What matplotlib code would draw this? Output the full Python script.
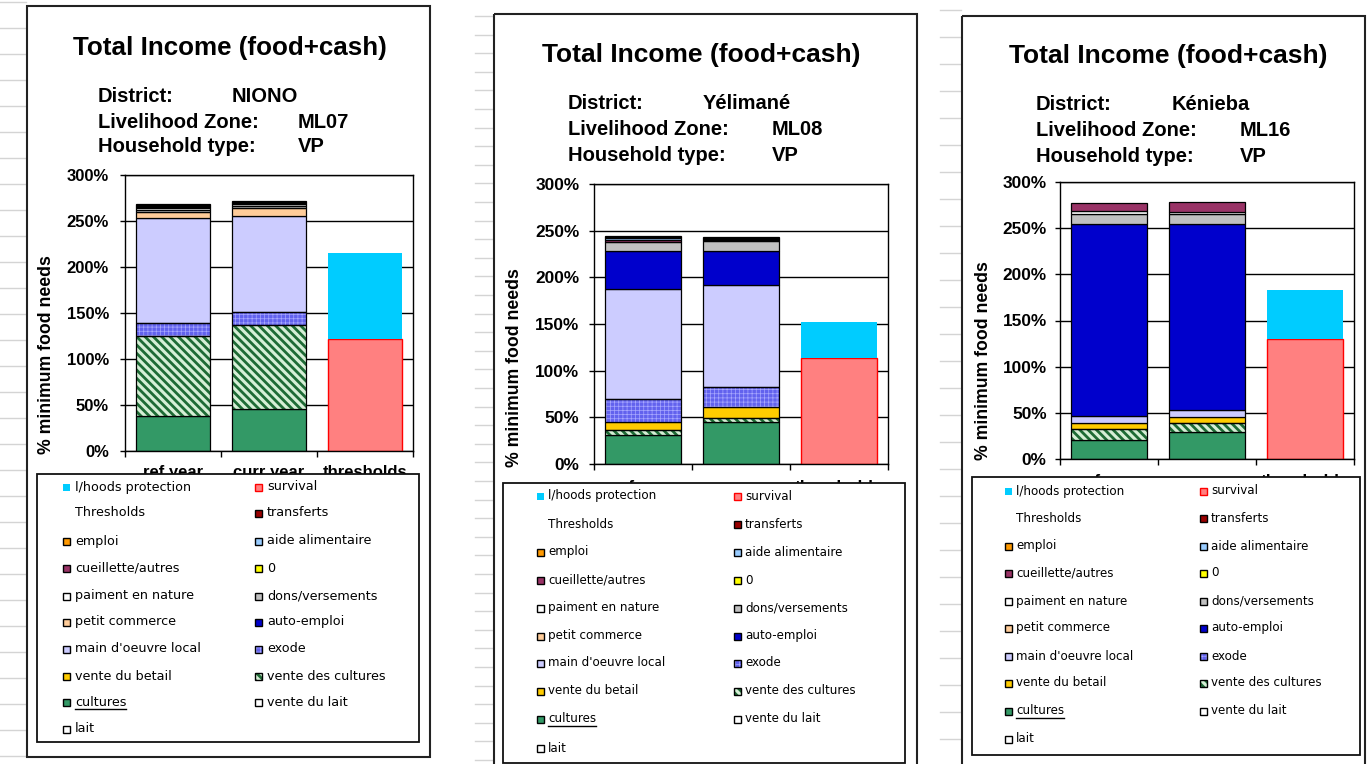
import numpy as np
import matplotlib
matplotlib.use("Agg")
import matplotlib.pyplot as plt
from matplotlib.patches import Rectangle

# ---------------- data ----------------
categories = ["ref year", "curr year", "thresholds"]
series = ["lait", "vente du lait", "cultures", "vente des cultures",
          "vente du betail", "exode", "main d'oeuvre local", "auto-emploi",
          "petit commerce", "dons/versements", "paiment en nature", "0",
          "cueillette/autres", "aide alimentaire", "emploi", "transferts"]
threshold_series = ["survival", "l/hoods protection"]

districts = ["NIONO", "Yélimané", "Kénieba"]
zones = ["ML07", "ML08", "ML16"]
household_types = ["VP", "VP", "VP"]

niono_ref = [0, 0, 38, 87, 0, 14, 114, 0, 7, 2, 2, 1, 1, 1, 0.5, 1]
niono_curr = [0, 0, 46, 91, 0, 14, 104, 0, 9, 2, 2.4, 0.5, 1, 0.5, 0.3, 0.5]
yelimane_ref = [0, 0, 31, 5.5, 8, 25, 118, 41, 0, 9, 0, 0, 3, 1.5, 1, 1.5]
yelimane_curr = [0, 0, 45, 4, 12, 22, 109, 36.5, 0, 10, 1, 0.5, 1, 0.5, 0.5, 0.8]
kenieba_ref = [0, 0, 21, 12, 6.5, 0, 7.5, 207, 0, 11.5, 3, 0, 8.5, 0, 0, 0]
kenieba_curr = [0, 0, 29, 9.5, 7, 0, 8, 200.5, 0, 11.5, 2.5, 0, 10, 0, 0, 0]

survival = [122, 114, 130]
lhoods_protection = [93, 38, 53]

incomes = [(niono_ref, niono_curr), (yelimane_ref, yelimane_curr),
           (kenieba_ref, kenieba_curr)]

# ---------------- styles ----------------
face = {"lait": "white", "vente du lait": "white", "cultures": "#339966",
        "vente des cultures": "#D6EFD6", "vente du betail": "#FFCC00",
        "exode": "#6262EE", "main d'oeuvre local": "#CCCCFF",
        "auto-emploi": "#0000CC", "petit commerce": "#FFCC99",
        "dons/versements": "#C0C0C0", "paiment en nature": "white",
        "0": "#FFFF00", "cueillette/autres": "#993366",
        "aide alimentaire": "#99CCFF", "emploi": "#FF9900",
        "transferts": "#990000", "survival": "#FF8080",
        "l/hoods protection": "#00CCFF"}
hatches = {"vente des cultures": ("\\\\\\\\", "#1E6B35", 2.0),
           "exode": ("++++", "#A8A8FF", 0.5)}

W, H = 1370, 764
fig = plt.figure(figsize=(W / 100, H / 100), dpi=100)
fig.patch.set_facecolor("white")
plt.rcParams["font.family"] = ["Liberation Sans", "DejaVu Sans"]


def fbox(x0, y0, x1, y1):
    return [x0 / W, 1 - y1 / H, (x1 - x0) / W, (y1 - y0) / H]


layouts = [
    dict(frame=(27, 6, 430, 757), ax=(125, 175, 413, 451), title=(230, 55, 18.7),
         info_x=(98, 232, 298), info_y=(102, 128, 152),
         leg_box=(37, 474, 419, 742),
         leg_rows=[487, 513, 541, 568, 596, 622, 649, 676, 702, 729],
         leg_cols=((67, 75), (259, 267)), leg_fs=9.2, xpad=10.2, ypad=8,
         tfs=12, ylab=(-0.243, 0.348)),
    dict(frame=(494, 14, 917, 775), ax=(594, 184, 888, 464), title=(701, 62, 19),
         info_x=(568, 703, 772), info_y=(109, 135, 161),
         leg_box=(503, 483, 905, 763),
         leg_rows=[496, 524, 552, 580, 608, 636, 663, 691, 719, 748],
         leg_cols=((541, 548), (738, 745)), leg_fs=8.6, xpad=11.5, ypad=7,
         tfs=12.4, ylab=(-0.241, 0.346)),
    dict(frame=(962, 16, 1365, 775), ax=(1060, 182, 1354, 459), title=(1168, 63, 19),
         info_x=(1036, 1172, 1240), info_y=(110, 136.5, 161.5),
         leg_box=(972, 477, 1360, 755),
         leg_rows=[491, 518, 546, 573, 601, 628, 656, 683, 711, 739],
         leg_cols=((1009, 1016), (1204, 1211)), leg_fs=8.6, xpad=11, ypad=6,
         tfs=12.4, ylab=(-0.231, 0.357)),
]

BW = 0.77


def draw_segment(ax, x, h, b, name):
    if name in hatches:
        hp, hc, hlw = hatches[name]
        with plt.rc_context({"hatch.linewidth": hlw}):
            bars = ax.bar(x, h, BW, bottom=b, color=face[name], edgecolor=hc,
                          linewidth=0, hatch=hp, zorder=2)
        for p in bars:
            if hasattr(p, "set_hatch_linewidth"):
                p.set_hatch_linewidth(hlw)
        ax.bar(x, h, BW, bottom=b, fill=False, edgecolor="black",
               linewidth=0.9, zorder=3)
    else:
        ax.bar(x, h, BW, bottom=b, color=face[name], edgecolor="black",
               linewidth=0.9, zorder=2)


for k, L in enumerate(layouts):
    ax = fig.add_axes(fbox(*L["ax"]))
    M = np.array(incomes[k], dtype=float).T  # (series, 2)
    bottom = np.zeros(2)
    for i, name in enumerate(series):
        for j in range(2):
            if M[i, j] > 0:
                draw_segment(ax, j, M[i, j], bottom[j], name)
        bottom += M[i]
    ax.bar(2, survival[k], BW, color=face["survival"], edgecolor="#FF0000",
           linewidth=1, zorder=2)
    ax.bar(2, lhoods_protection[k], BW, bottom=survival[k],
           color=face["l/hoods protection"], linewidth=0, zorder=2)

    ax.set_xlim(-0.5, 2.5)
    ax.set_ylim(0, 300)
    yt = list(range(0, 301, 50))
    ax.set_yticks(yt, [f"{v}%" for v in yt])
    ax.yaxis.grid(True, color="black", linewidth=1)
    ax.set_axisbelow(True)
    ax.set_xticks([-0.5, 0.5, 1.5, 2.5], ["", "", "", ""])
    ax.set_xticks([0, 1, 2], categories, minor=True)
    ax.tick_params(axis="x", which="major", length=4, width=1, direction="out")
    ax.tick_params(axis="x", which="minor", length=0, pad=L["xpad"],
                   labelsize=L["tfs"])
    ax.tick_params(axis="y", length=3.6, width=1, direction="out",
                   pad=L["ypad"], labelsize=L["tfs"])
    for lab in ax.get_yticklabels() + ax.get_xticklabels(minor=True):
        lab.set_fontweight("bold")
    for s in ax.spines.values():
        s.set_linewidth(1)
        s.set_color("black")
    ax.set_ylabel("% minimum food needs", fontsize=12.7, fontweight="bold")
    ax.yaxis.set_label_coords(*L["ylab"])

# ---------------- overlay (frames, titles, legends) ----------------
ov = fig.add_axes([0, 0, 1, 1], zorder=10)
ov.set_xlim(0, W)
ov.set_ylim(H, 0)
ov.axis("off")

# faint spreadsheet grid in the margins
for y in np.arange(2, H, 26):
    ov.plot([0, 26], [y, y], color="#d4d4d4", lw=1, zorder=0)
for y in np.arange(16, H, 18.6):
    ov.plot([475, 493], [y, y], color="#d4d4d4", lw=1, zorder=0)
for y in np.arange(10, H, 27):
    ov.plot([940, 961], [y, y], color="#d4d4d4", lw=1, zorder=0)

legend_labels = threshold_series[::-1] + ["Thresholds"] + series[::-1]

renderer = fig.canvas.get_renderer()
for k, L in enumerate(layouts):
    x0, y0, x1, y1 = L["frame"]
    ov.add_patch(Rectangle((x0, y0), x1 - x0, y1 - y0, fill=False,
                           edgecolor="#222222", lw=1.5, zorder=1))
    tx, ty, tfs = L["title"]
    ov.text(tx, ty, "Total Income (food+cash)", ha="center", va="baseline",
            fontsize=tfs, fontweight="bold", color="black")
    lx, vx1, vx2 = L["info_x"]
    rows = [("District:", districts[k], vx1),
            ("Livelihood Zone:", zones[k], vx2),
            ("Household type:", household_types[k], vx2)]
    for (lab, val, vx), yb in zip(rows, L["info_y"]):
        ov.text(lx, yb, lab, ha="left", va="baseline", fontsize=14.5,
                fontweight="bold", color="black")
        ov.text(vx, yb, val, ha="left", va="baseline", fontsize=14.5,
                fontweight="bold", color="black")

    bx0, by0, bx1, by1 = L["leg_box"]
    ov.add_patch(Rectangle((bx0, by0), bx1 - bx0, by1 - by0, facecolor="white",
                           edgecolor="#111111", lw=1.3, zorder=2))
    for idx, name in enumerate(legend_labels):
        ry = L["leg_rows"][idx // 2]
        mx, txx = L["leg_cols"][idx % 2]
        if name != "Thresholds":
            if name == "l/hoods protection":
                ov.add_patch(Rectangle((mx - 4, ry - 3.5), 7, 7,
                                       facecolor=face[name], lw=0, zorder=3))
            elif name == "survival":
                ov.add_patch(Rectangle((mx - 4, ry - 3.5), 7, 7,
                                       facecolor=face[name], edgecolor="#FF0000",
                                       lw=1, zorder=3))
            elif name in hatches:
                hp, hc, hlw = hatches[name]
                with plt.rc_context({"hatch.linewidth": hlw}):
                    p = Rectangle((mx - 4, ry - 3.5), 7, 7, facecolor=face[name],
                                  edgecolor=hc, lw=0, hatch=hp, zorder=3)
                if hasattr(p, "set_hatch_linewidth"):
                    p.set_hatch_linewidth(hlw)
                ov.add_patch(p)
                ov.add_patch(Rectangle((mx - 4, ry - 3.5), 7, 7, fill=False,
                                       edgecolor="black", lw=1, zorder=4))
            else:
                ov.add_patch(Rectangle((mx - 4, ry - 3.5), 7, 7,
                                       facecolor=face[name], edgecolor="black",
                                       lw=1, zorder=3))
        t = ov.text(txx, ry, name, ha="left", va="center", fontsize=L["leg_fs"],
                    family="DejaVu Sans", color="black", zorder=5)
        if name == "cultures":
            bb = t.get_window_extent(renderer=renderer)
            ov.plot([txx, txx + bb.width], [ry + 6.5, ry + 6.5],
                    color="black", lw=1, zorder=5)

fig.savefig("out.png", dpi=100, facecolor="white")
